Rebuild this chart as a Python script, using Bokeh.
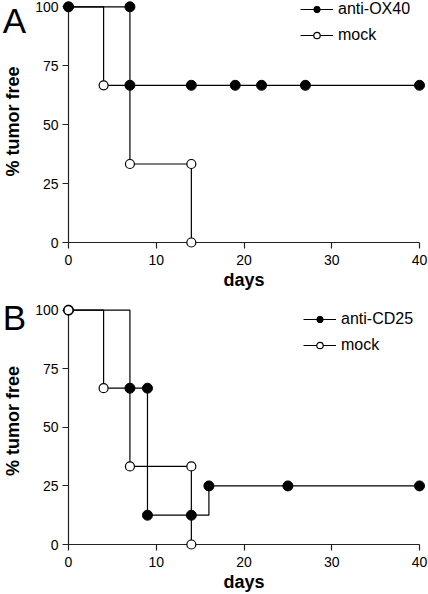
from bokeh.plotting import figure
from bokeh.layouts import column
from bokeh.models import Range1d, FixedTicker, Legend, LegendItem
from bokeh.core.properties import value
from bokeh.embed import file_html
from bokeh.resources import INLINE

# ---------------- data ----------------
x_ticks = [0, 10, 20, 30, 40]
y_ticks = [0, 25, 50, 75, 100]

# Panel A
a_ox40_days = [0, 7, 7, 14, 19, 22, 27, 40]
a_ox40_pct = [100, 100, 66.7, 66.7, 66.7, 66.7, 66.7, 66.7]
a_mock_days = [0, 4, 7, 14, 14]
a_mock_pct = [100, 66.7, 33.3, 33.3, 0]

# Panel B
b_cd25_days = [0, 7, 9, 9, 14, 16, 25, 40]
b_cd25_pct = [100, 66.7, 66.7, 12.5, 12.5, 25, 25, 25]
b_mock_days = [0, 4, 7, 14, 14]
b_mock_pct = [100, 66.7, 33.3, 33.3, 0]

FONT = "Liberation Sans"


def make_panel(letter, treat_label, t_days, t_pct, m_days, m_pct,
               y_top, bottom, treat_first, legend_xy):
    p = figure(width=428, height=297, output_backend="svg", toolbar_location=None,
               x_range=Range1d(0, 40), y_range=Range1d(0, y_top),
               min_border_left=63, min_border_right=9,
               min_border_top=0, min_border_bottom=bottom)
    p.outline_line_color = None
    p.xgrid.visible = False
    p.ygrid.visible = False
    p.background_fill_color = "white"
    p.border_fill_color = "white"

    for ax in (p.xaxis[0], p.yaxis[0]):
        ax.axis_line_color = "#222222"
        ax.axis_line_width = 1.2
        ax.major_tick_line_color = "#222222"
        ax.major_tick_line_width = 1.2
        ax.major_tick_in = 0
        ax.major_tick_out = 6
        ax.minor_tick_line_color = None
        ax.major_label_text_font = FONT
        ax.major_label_text_font_size = "14px"
        ax.major_label_text_color = "black"
        ax.axis_label_text_font = FONT
        ax.axis_label_text_font_size = "18px"
        ax.axis_label_text_font_style = "bold"
        ax.axis_label_text_color = "black"

    p.xaxis.ticker = FixedTicker(ticks=x_ticks)
    p.yaxis.ticker = FixedTicker(ticks=y_ticks)
    p.yaxis.bounds = (0, 100)
    p.xaxis.axis_label = "days"
    p.yaxis.axis_label = "% tumor free"
    p.xaxis.major_label_standoff = 6
    p.yaxis.major_label_standoff = 4
    p.xaxis.axis_label_standoff = 2
    p.yaxis.axis_label_standoff = 9

    def draw_treat():
        l = p.step(t_days, t_pct, mode="after", line_color="black", line_width=1.2)
        s = p.scatter(t_days, t_pct, size=10, marker="circle",
                      fill_color="black", line_color="black", line_width=1)
        l.level = "overlay"
        s.level = "overlay"
        return l, s

    def draw_mock():
        l = p.step(m_days, m_pct, mode="after", line_color="black", line_width=1.2)
        s = p.scatter(m_days, m_pct, size=9, marker="circle",
                      fill_color="white", line_color="black", line_width=1.2)
        l.level = "overlay"
        s.level = "overlay"
        return l, s

    if treat_first:
        tl, ts = draw_treat()
        ml, ms = draw_mock()
    else:
        ml, ms = draw_mock()
        tl, ts = draw_treat()

    legend = Legend(items=[LegendItem(label=treat_label, renderers=[tl, ts]),
                           LegendItem(label="mock", renderers=[ml, ms])],
                    location=legend_xy,
                    border_line_color=None, background_fill_alpha=0,
                    padding=0, margin=0, spacing=8,
                    glyph_width=33, glyph_height=16, label_height=16,
                    label_standoff=5,
                    label_text_font=FONT, label_text_font_size="16px",
                    label_text_color="black")
    p.add_layout(legend, "center")

    # panel letter anchored at the top of the panel
    t = p.text(x=[-7.5], y=[y_top], text=[letter], text_font=value(FONT),
               text_font_size="35px", text_color="black",
               text_align="left", text_baseline="top")
    t.level = "overlay"
    return p


pA = make_panel("A", "anti-OX40", a_ox40_days, a_ox40_pct, a_mock_days, a_mock_pct,
                y_top=102.67, bottom=55, treat_first=False, legend_xy=(232, 198))
pB = make_panel("B", "anti-CD25", b_cd25_days, b_cd25_pct, b_mock_days, b_mock_pct,
                y_top=105.4, bottom=48, treat_first=True, legend_xy=(235, 190))

layout = column(pA, pB, spacing=0)
html = file_html(layout, INLINE)
html = html.replace("<head>", "<head><style>html,body{margin:0;padding:0;}</style>", 1)
open("out.html", "w").write(html)
